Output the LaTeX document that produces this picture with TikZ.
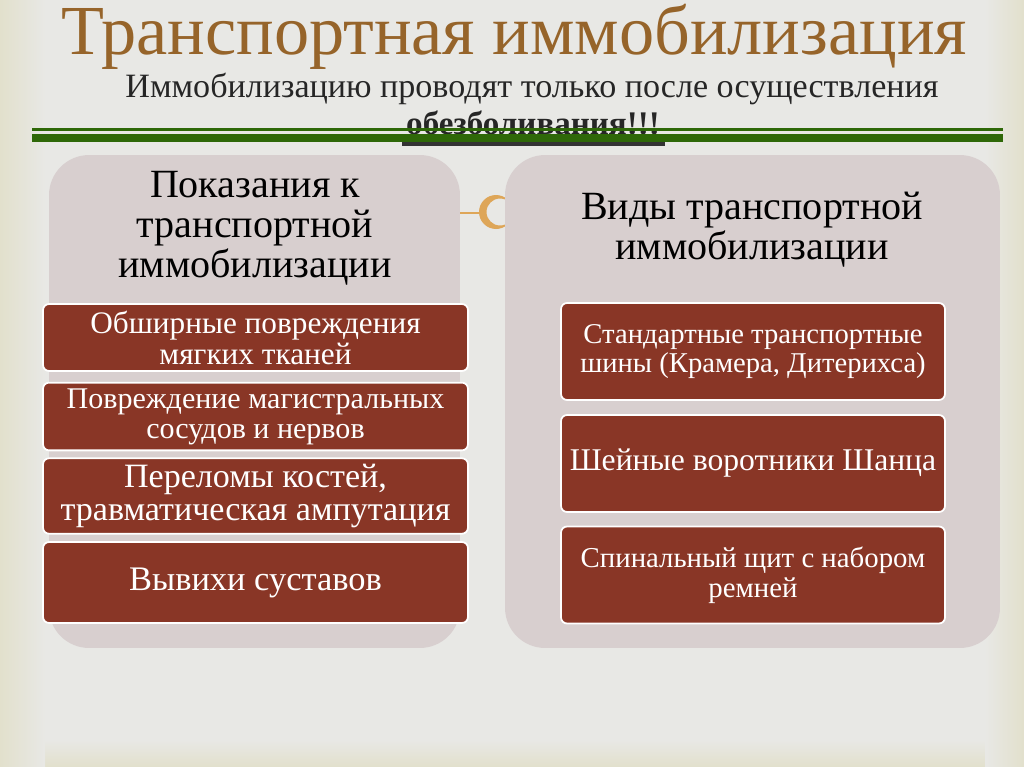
\documentclass[tikz,border=0pt]{standalone}
\usepackage{fontspec}
\setmainfont{Liberation Serif}
\usepackage{tikz}
\usetikzlibrary{shapes.geometric, arrows}

\definecolor{bgGray}{RGB}{232,232,229}
\definecolor{bgBeige}{RGB}{226,224,204}
\definecolor{titleBrown}{RGB}{150,100,42}
\definecolor{lineGreen}{RGB}{46,104,8}
\definecolor{panelRose}{RGB}{216,207,207}
\definecolor{boxRed}{RGB}{137,54,38}
\definecolor{ringGold}{RGB}{222,166,88}

\begin{document}
\begin{tikzpicture}[x=0.02cm, y=-0.02cm]
			\tikzstyle{Panel} = [rectangle, rounded corners=0.8cm, minimum height=9.86cm, fill=panelRose, draw=none]
			\tikzstyle{PanelHead} = [align=center, text=black, font=\fontsize{22.8pt}{22.8pt}\selectfont]
			\tikzstyle{LeftBox} = [rectangle, rounded corners=0.12cm, minimum width=8.5cm, align=center, draw=white, line width=1pt, fill=boxRed, text=white]
			\tikzstyle{RightBox} = [rectangle, rounded corners=0.12cm, minimum width=7.68cm, minimum height=1.94cm, align=center, draw=white, line width=1pt, fill=boxRed, text=white]
			\tikzstyle{greenline} = [lineGreen, line cap=butt]
			
			%\draw[step=50,gray,very thin] (0,0) grid (1024,767);
			
			% background
			\fill [bgGray] (0,0) rectangle (1024,767);
			\shade [top color=bgGray, bottom color=bgBeige] (0,740) rectangle (1024,767);
			\shade [left color=bgBeige, right color=bgGray] (0,0) rectangle (45,767);
			\shade [left color=bgGray, right color=bgBeige] (985,0) rectangle (1024,767);
			\useasboundingbox (0,0) rectangle (1024,767);
			
			% heading
			\node (title) [anchor=base, text=titleBrown, font=\fontsize{40pt}{48pt}\selectfont] at (514,55) {Транспортная иммобилизация};
			\node (subLine) [anchor=base, text=black!85, font=\fontsize{19.4pt}{22pt}\selectfont] at (532,97) {Иммобилизацию проводят только после осуществления};
			\node (obezNode) [anchor=base, text=black!85, font=\fontsize{18.8pt}{22pt}\selectfont\bfseries, inner sep=0pt] at (533,134) {обезболивания!!!};
			\draw [black!80, line width=2.2pt] (402,144) -- (665,144);
			\draw [greenline, line width=1.7pt] (32,129.5) -- (1003,129.5);
			\draw [greenline, line width=4.6pt] (32,138) -- (1003,138);
			
			% ring between panels
			\node (leftPanel) [Panel, minimum width=8.22cm] at (254.5,401.5) {};
			\coordinate (ringL) at (480,213);
			\draw [ringGold, line width=1.2pt] (leftPanel.east |- ringL) -- (ringL);
			\fill [ringGold, even odd rule] (496,212) circle (17) (500,212) circle (13.5);
			\node (rightPanel) [Panel, minimum width=9.9cm] at (752.5,401.5) {};
			
			% left column
			\node (leftHead) [PanelHead] at (255,228) {Показания к\\транспортной\\иммобилизации};
			\node (softNode) [LeftBox, minimum height=1.34cm, font=\fontsize{17.8pt}{17.6pt}\selectfont] at (255.5,337.5) {Обширные повреждения\\мягких тканей};
			\node (vesselNode) [LeftBox, minimum height=1.34cm, font=\fontsize{17.1pt}{17pt}\selectfont] at (255.5,416.5) {Повреждение магистральных\\сосудов и нервов};
			\node (boneNode) [LeftBox, minimum height=1.32cm, font=\fontsize{19.4pt}{18.8pt}\selectfont] at (255.5,496) {Переломы костей,\\травматическая ампутация};
			\node (jointNode) [LeftBox, minimum height=1.62cm, font=\fontsize{19.6pt}{20pt}\selectfont] at (255.5,582.5) {Вывихи суставов};
			
			% right column
			\node (rightHead) [PanelHead] at (752,230) {Виды транспортной\\иммобилизации};
			\node (splintNode) [RightBox, font=\fontsize{16.3pt}{17pt}\selectfont] at (753,351.5) {Стандартные транспортные\\шины (Крамера, Дитерихса)};
			\node (collarNode) [RightBox, font=\fontsize{18pt}{19pt}\selectfont] at (753,463.5) {Шейные воротники Шанца};
			\node (boardNode) [RightBox, font=\fontsize{16.4pt}{17pt}\selectfont] at (753,575) {Спинальный щит с набором\\ремней};
		\end{tikzpicture}
\end{document}
